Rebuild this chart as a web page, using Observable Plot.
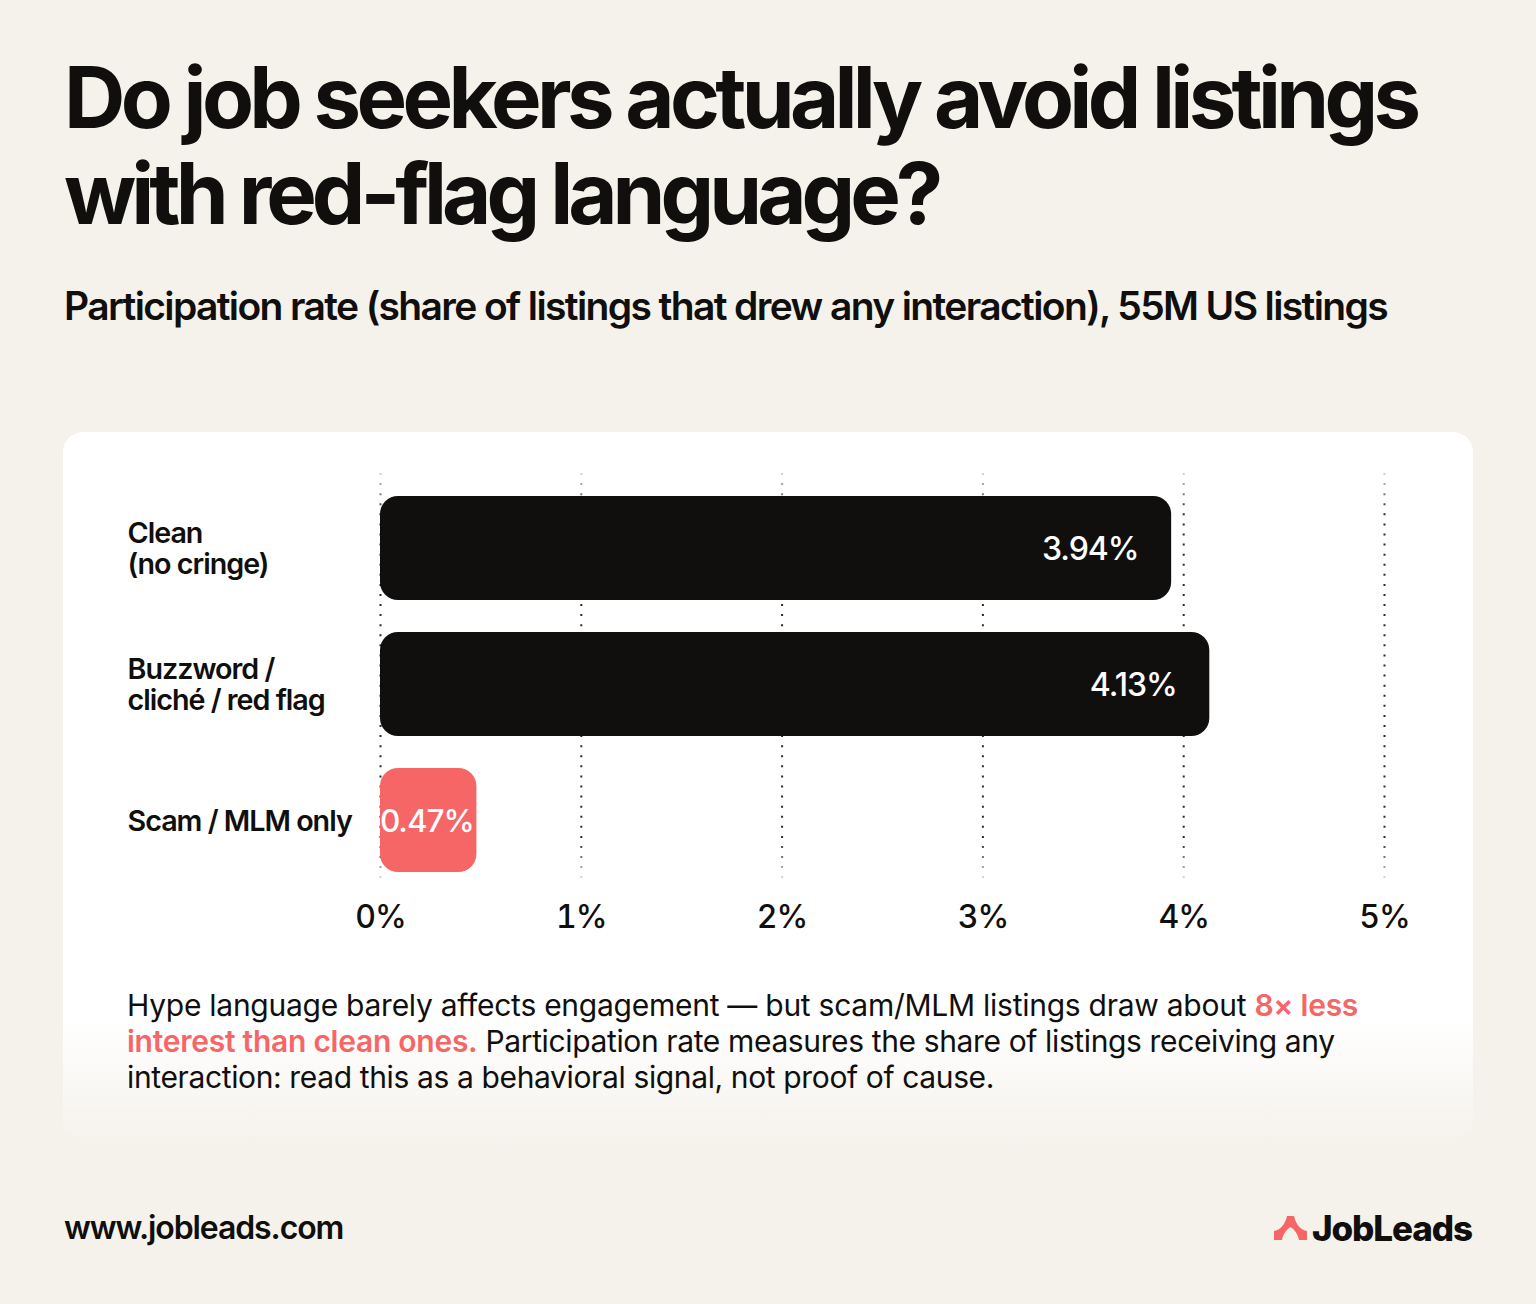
<!DOCTYPE html>
<html><head><meta charset="utf-8">
<script src="https://cdn.jsdelivr.net/npm/d3@7"></script>
<script src="https://cdn.jsdelivr.net/npm/@observablehq/plot@0.6"></script>
<style>
html,body{margin:0;padding:0;background:#f5f2ec}
#page{position:relative;width:1536px;height:1304px;background:#f5f2ec;overflow:hidden;font-family:Inter,sans-serif;color:#100f0d}
#title{position:absolute;left:64px;top:50px;margin:0;font-size:85px;line-height:96px;font-weight:700;letter-spacing:-4.7px;white-space:nowrap}
#title span{letter-spacing:-5px}
#sub{position:absolute;left:64px;top:282px;margin:0;font-size:39px;line-height:48px;font-weight:600;letter-spacing:-1.63px;white-space:nowrap}
#card{position:absolute;left:63px;top:432px;width:1410px;height:710px;border-radius:20px;background:linear-gradient(#fff 0,#fff 590px,#f5f2ec 710px)}
#chart{position:absolute;left:0;top:0}
#chart text{letter-spacing:-1px}
#note{position:absolute;left:64px;top:555px;width:1290px;margin:0;font-size:30px;line-height:36px;font-weight:400;letter-spacing:-.37px}
#note b{color:#f66666;font-weight:600;letter-spacing:-.26px}
#note i{font-style:normal;letter-spacing:-.26px}
#url{position:absolute;left:64px;top:1208px;font-size:32px;line-height:40px;font-weight:600;letter-spacing:-1.1px}
#logo{position:absolute;left:1272px;top:1208px;font-size:35px;line-height:40px;font-weight:800;letter-spacing:-1.1px;padding-left:40px;width:180px;white-space:nowrap}
#logo svg{position:absolute;left:1px;top:7px}
#defs{position:absolute;width:0;height:0}
</style></head><body>
<div id="page">
<h1 id="title">Do job seekers actually avoid listings<br><span>with red-flag language?</span></h1>
<p id="sub">Participation rate (share of listings that drew any interaction), 55M US listings</p>
<div id="card"><div id="chart"></div>
<p id="note"><i>Hype language barely affects engagement — but scam/MLM listings draw about </i><b>8× less interest than clean ones.</b> Participation rate measures the share of listings receiving any interaction: read this as a behavioral signal, not proof of cause.</p></div>
<div id="url">www.jobleads.com</div>
<div id="logo"><svg width="38" height="26" viewBox="0 0 38 26"><path d="M1 25 L1 16 C7 15 12 10 14 1 L21 1 C23 10 28 15 34 16 L34 25 L26 25 C25 19 21 14 17.5 12 C14 14 10 19 9 25 Z" fill="#f66666"/></svg>JobLeads</div>
</div>
<svg id="defs"><defs><linearGradient id="fade" gradientUnits="userSpaceOnUse" x1="0" x2="0" y1="40" y2="448">
<stop offset="0" stop-color="#d8d8d6"/><stop offset="0.1" stop-color="#2a2a28"/><stop offset="0.9" stop-color="#2a2a28"/><stop offset="1" stop-color="#d8d8d6"/>
</linearGradient></defs></svg>
<script>
const categories=["Clean\n(no cringe)","Buzzword /\ncliché / red flag","Scam / MLM only"];
const values=[3.94,4.13,0.47];
const valueLabels=["3.94%","4.13%","0.47%"];
const barColors=["#100f0d","#100f0d","#f66666"];
const ticks=[0,1,2,3,4,5];
const rows=categories.map((c,i)=>({c,v:values[i],l:valueLabels[i],f:barColors[i]}));
const chart=Plot.plot({
  width:1410,height:510,
  marginLeft:317,marginRight:89,marginTop:48,marginBottom:54,
  style:{background:"transparent",fontFamily:"Inter, sans-serif"},
  x:{domain:[0,5],label:null},
  y:{domain:categories,label:null,paddingInner:0.235,paddingOuter:0.1175,axis:null},
  marks:[
    Plot.ruleX(ticks,{x:d=>d,stroke:"url(#fade)",strokeWidth:2,strokeDasharray:"2 8.08",insetTop:-7,insetBottom:10}),
    Plot.barX(rows,{filter:d=>d.v>=1,x:"v",y:"c",fill:"f",rx:18}),
    Plot.barX(rows,{filter:d=>d.v<1,x:"v",y:"c",fill:"f",rx:18,insetRight:-2}),
    Plot.text(rows,{filter:d=>d.v>=1,x:"v",y:"c",text:"l",fill:"#fff",textAnchor:"end",dx:-33,dy:1,fontSize:32,fontWeight:500}),
    Plot.text(rows,{filter:d=>d.v<1,x:"v",y:"c",text:"l",fill:"#fff",textAnchor:"end",dx:-1,dy:1,fontSize:31.5,fontWeight:500}),
    Plot.axisX({ticks,tickFormat:d=>d+"%",tickSize:0,tickPadding:17,fontSize:32,fontWeight:500,fill:"#100f0d",label:null,anchor:"bottom"}),
    Plot.text(rows,{x:0,y:"c",text:"c",textAnchor:"start",dx:-253,fontSize:28.7,fontWeight:600,fill:"#100f0d",lineHeight:1.1})
  ]
});
document.getElementById("chart").appendChild(chart);
</script>
</body></html>
